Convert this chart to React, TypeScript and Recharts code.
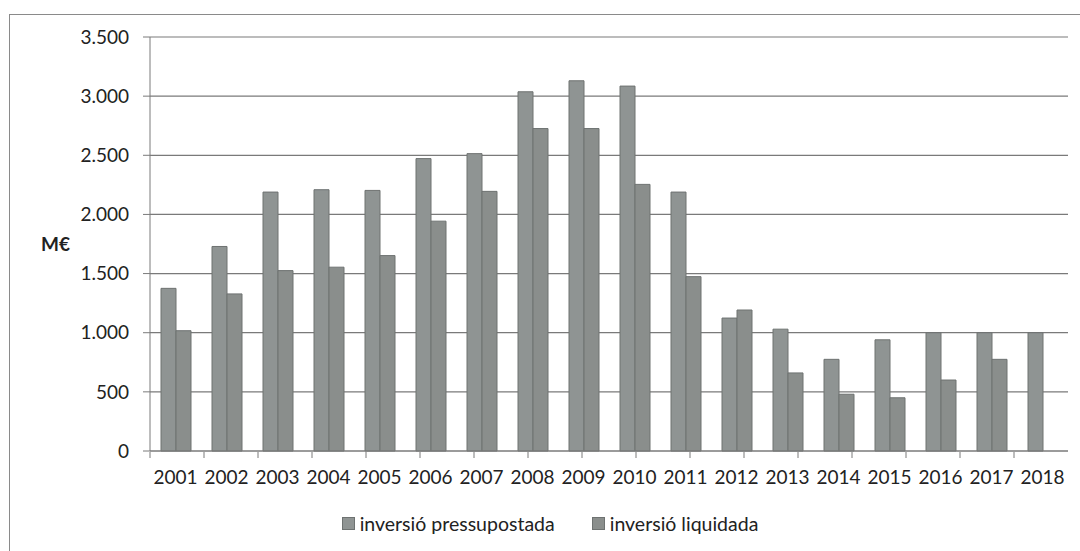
import React from 'react';
import { Bar, BarChart, CartesianGrid, Legend, XAxis, YAxis } from 'recharts';

// values in M€
const years = ['2001', '2002', '2003', '2004', '2005', '2006', '2007', '2008', '2009', '2010', '2011', '2012', '2013', '2014', '2015', '2016', '2017', '2018'];
const pressupostada = [1375, 1729, 2189, 2209, 2203, 2472, 2514, 3037, 3130, 3085, 2189, 1124, 1030, 775, 940, 1000, 1000, 1000];
const liquidada = [1017, 1328, 1525, 1554, 1652, 1943, 2195, 2726, 2726, 2254, 1474, 1192, 660, 480, 450, 600, 775, null];
const yTicks = [0, 500, 1000, 1500, 2000, 2500, 3000, 3500];
const edgeTicks = [...years.map((_, i) => i), years.length];
const seriesOrder = ['inversió pressupostada', 'inversió liquidada'];

const data = years.map((year, i) => ({
  year,
  pres: pressupostada[i],
  liq: liquidada[i],
}));

const FONT = 'Lato, "Open Sans", sans-serif';

const fmt = (v: number) => v.toLocaleString('de-DE');

const LegendContent = (props: any) => {
  const payload = [...(props.payload || [])].sort(
    (a: any, b: any) => seriesOrder.indexOf(a.value) - seriesOrder.indexOf(b.value)
  );
  return (
    <div style={{ display: 'flex', justifyContent: 'center', gap: 37, fontFamily: FONT, fontSize: 19.5, color: '#222' }}>
      {payload.map((p: any) => (
        <div key={p.value} style={{ display: 'flex', alignItems: 'center' }}>
          <span style={{ display: 'inline-block', width: 11, height: 11, background: p.color, border: '1px solid #6e7271', marginRight: 5 }} />
          <span>{p.value}</span>
        </div>
      ))}
    </div>
  );
};

export default function App() {
  return (
    <div style={{ position: 'fixed', left: 0, top: 0, width: 1080, height: 551, background: '#fff', overflow: 'hidden' }}>
      <div style={{ position: 'absolute', left: 9, top: 14, width: 1200, height: 700, borderLeft: '1.5px solid #8a8a8a', borderTop: '1.5px solid #8a8a8a' }} />
      <BarChart
        width={1080}
        height={551}
        data={data}
        margin={{ top: 37, right: 12, left: 10, bottom: 60 }}
        barCategoryGap={11}
        barGap={0}
        style={{ position: 'absolute', left: 0, top: 0 }}
      >
        <CartesianGrid vertical={false} stroke="#7a7a7a" strokeWidth={1.2} />
        <XAxis
          dataKey="year"
          height={1}
          axisLine={{ stroke: '#7a7a7a' }}
          tickLine={false}
          tickSize={6}
          tickMargin={14}
          tick={{ fill: '#222', fontSize: 19, fontFamily: FONT }}
          interval={0}
        />
        <XAxis
          xAxisId="edges"
          type="number"
          domain={[0, years.length]}
          ticks={edgeTicks}
          allowDataOverflow
          height={39}
          axisLine={false}
          tick={() => <g />}
          tickSize={6}
          tickLine={{ stroke: '#7a7a7a' }}
        />
        <YAxis
          width={140}
          domain={[0, 3500]}
          ticks={yTicks}
          tickFormatter={fmt}
          axisLine={{ stroke: '#7a7a7a' }}
          tickLine={{ stroke: '#7a7a7a' }}
          tickSize={7}
          tickMargin={14}
          tick={{ fill: '#222', fontSize: 19, fontFamily: FONT }}
          label={{ value: 'M€', position: 'insideLeft', offset: 31, fill: '#222', fontSize: 19, fontWeight: 700, fontFamily: FONT }}
        />
        <Legend
          verticalAlign="middle"
          layout="horizontal"
          content={<LegendContent />}
          wrapperStyle={{ top: 512, left: 10, width: 1080 }}
        />
        <Bar dataKey="pres" name="inversió pressupostada" fill="#8f9493" stroke="#6e7271" strokeWidth={1} isAnimationActive={false} />
        <Bar dataKey="liq" name="inversió liquidada" fill="#8a8e8c" stroke="#6e7271" strokeWidth={1} isAnimationActive={false} />
      </BarChart>
    </div>
  );
}
